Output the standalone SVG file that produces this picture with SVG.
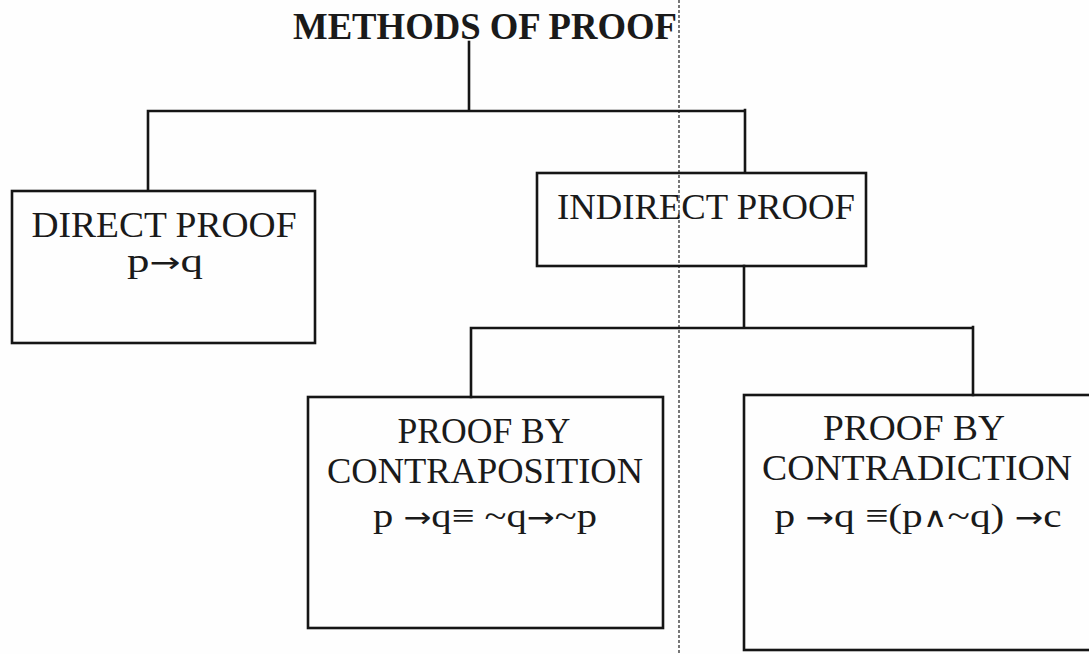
<svg xmlns="http://www.w3.org/2000/svg" width="1089" height="654" viewBox="0 0 1089 654">
  <style>
    .box { fill: none; stroke: #151515; stroke-width: 2.6; }
    .conn { fill: none; stroke: #151515; stroke-width: 2.6; stroke-linecap: square; }
    .t { font-family: "Liberation Serif", "Times New Roman", serif; fill: #1a1a1a; font-size: 36.5px; }
    .f { font-family: "Liberation Serif", "DejaVu Serif", serif; fill: #1a1a1a; font-size: 34px; }
    .s { font-family: "DejaVu Sans", sans-serif; font-size: 28px; font-weight: normal; }
    .title { font-family: "Liberation Serif", "Times New Roman", serif; font-weight: bold; fill: #1a1a1a; font-size: 37px; }
  </style>
  <rect width="1089" height="654" fill="#fefefe"/>
  <!-- scan fold line -->
  <path d="M679 0 V654" stroke="#2a2a2a" stroke-width="1.6" stroke-dasharray="3 2" fill="none" opacity="0.8"/>

  <g id="title">
    <text class="title" x="293" y="39" textLength="384" lengthAdjust="spacingAndGlyphs">METHODS OF PROOF</text>
  </g>

  <g id="connectors">
    <path class="conn" d="M469 42 V110"/>
    <path class="conn" d="M148 111 H745 M148 111 V190 M745 110 V172"/>
    <path class="conn" d="M744 266 V327"/>
    <path class="conn" d="M471 328 H973 M471 328 V397 M973 327 V395"/>
  </g>

  <g id="direct-proof">
    <rect class="box" x="12" y="191" width="303" height="152"/>
    <text class="t" x="164" y="237" text-anchor="middle" textLength="265" lengthAdjust="spacingAndGlyphs">DIRECT PROOF</text>
    <text class="f" x="165" y="272" text-anchor="middle" textLength="76" lengthAdjust="spacingAndGlyphs">p<tspan class="s">→</tspan>q</text>
  </g>

  <g id="indirect-proof">
    <rect class="box" x="537" y="173" width="329" height="93"/>
    <text class="t" x="557" y="219" textLength="298" lengthAdjust="spacingAndGlyphs">INDIRECT PROOF</text>
  </g>

  <g id="contraposition">
    <rect class="box" x="308" y="397" width="355" height="231"/>
    <text class="t" x="484" y="443" text-anchor="middle" textLength="173" lengthAdjust="spacingAndGlyphs">PROOF BY</text>
    <text class="t" x="485" y="483" text-anchor="middle" textLength="316" lengthAdjust="spacingAndGlyphs">CONTRAPOSITION</text>
    <text class="f" x="485" y="527" text-anchor="middle" textLength="224" lengthAdjust="spacingAndGlyphs">p <tspan class="s">→</tspan>q≡ ~q<tspan class="s">→</tspan>~p</text>
  </g>

  <g id="contradiction">
    <rect class="box" x="744" y="395" width="350" height="255"/>
    <text class="t" x="914" y="440" text-anchor="middle" textLength="182" lengthAdjust="spacingAndGlyphs">PROOF BY</text>
    <text class="t" x="917" y="480" text-anchor="middle" textLength="310" lengthAdjust="spacingAndGlyphs">CONTRADICTION</text>
    <text class="f" x="918" y="527" text-anchor="middle" textLength="287" lengthAdjust="spacingAndGlyphs">p <tspan class="s">→</tspan>q ≡(p<tspan class="s">∧</tspan>~q) <tspan class="s">→</tspan>c</text>
  </g>
</svg>
